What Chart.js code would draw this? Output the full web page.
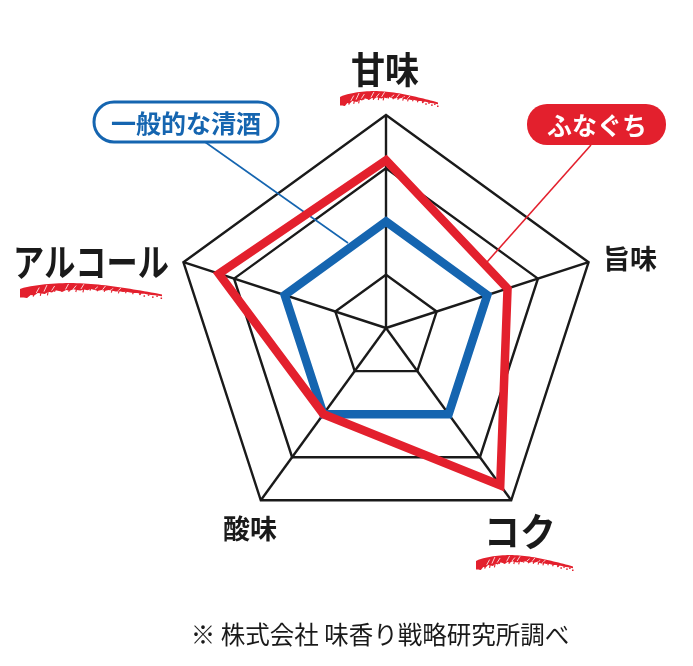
<!DOCTYPE html>
<html>
<head>
<meta charset="utf-8">
<script src="https://cdn.jsdelivr.net/npm/chart.js@4"></script>
<style>
  html, body { margin: 0; padding: 0; background: #ffffff; }
  #wrap { width: 693px; height: 666px; position: relative; }
</style>
</head>
<body>
<div id="wrap"><canvas id="c" width="693" height="666"></canvas></div>
<script>
const categories = ['甘味', '旨味', 'コク', '酸味', 'アルコール'];
const seriesNames = ['ふなぐち', '一般的な清酒'];
const funaguchiValues = [3.15, 2.4, 3.65, 2.0, 3.3];
const futsuValues = [2, 2, 2, 2, 2];
const tickValues = [0, 1, 2, 3, 4];
const footnote = '※ 株式会社 味香り戦略研究所調べ';

const RED = '#e3202d';
const BLUE = '#1565b0';
const INK = '#1a1a1a';
const JP = '"Noto Sans CJK JP", "Noto Sans", sans-serif';

// decorative brush stroke under a label
function brush(ctx, x0, x1, yBase, lift, thick) {
  ctx.save();
  const w = x1 - x0;
  const hump = t => lift * Math.sin(Math.PI * Math.pow(t, 0.8));
  const half = t => thick * (1 - 0.85 * t) * 0.5;
  const top = t => yBase - hump(t) - half(t) + t * 2;
  const bot = t => yBase - hump(t) + half(t) + t * 2 + 0.6;
  ctx.fillStyle = RED;
  ctx.beginPath();
  const N = 40;
  for (let i = 0; i <= N; i++) {
    const t = i / N;
    const x = x0 + w * t;
    if (i === 0) ctx.moveTo(x, top(t)); else ctx.lineTo(x, top(t));
  }
  for (let i = N; i >= 0; i--) {
    const t = i / N;
    const x = x0 + w * t;
    const jag = ((i * 7) % 5) * 0.7 * (1 - t);
    ctx.lineTo(x, bot(t) + jag);
  }
  ctx.closePath();
  ctx.fill();
  // bristle gaps
  ctx.strokeStyle = '#ffffff';
  ctx.lineWidth = 0.8;
  for (let i = 3; i < 24; i += 2) {
    const t = i / 30 + ((i * 13) % 7) / 160;
    const x = x0 + w * t;
    const y1 = top(t) + ((i * 5) % 4) * 0.8;
    const y2 = bot(t) - ((i * 3) % 3);
    if (y2 - y1 < 1.5) continue;
    ctx.beginPath();
    ctx.moveTo(x + 1.5, y1);
    ctx.lineTo(x - 1.5, y2);
    ctx.stroke();
  }
  // drips and speckles
  ctx.strokeStyle = RED;
  ctx.lineWidth = 1.1;
  for (let i = 1; i < 18; i++) {
    const t = i / 20;
    const x = x0 + w * t;
    const yb = bot(t);
    const len = 1.5 + ((i * 11) % 5) * 0.8 * (1 - t);
    ctx.beginPath();
    ctx.moveTo(x, yb - 1);
    ctx.lineTo(x - 1, yb + len);
    ctx.stroke();
  }
  ctx.fillStyle = RED;
  for (let i = 0; i < 6; i++) {
    const t = 0.84 + i * 0.03;
    ctx.fillRect(x0 + w * t, bot(t) + (i % 2) * 1.5, 1.5, 1.5);
  }
  ctx.restore();
}

function roundRect(ctx, x, y, w, h, r) {
  ctx.beginPath();
  ctx.moveTo(x + r, y);
  ctx.lineTo(x + w - r, y);
  ctx.arc(x + w - r, y + r, r, -Math.PI / 2, 0);
  ctx.lineTo(x + w, y + h - r);
  ctx.arc(x + w - r, y + h - r, r, 0, Math.PI / 2);
  ctx.lineTo(x + r, y + h);
  ctx.arc(x + r, y + h - r, r, Math.PI / 2, Math.PI);
  ctx.lineTo(x, y + r);
  ctx.arc(x + r, y + r, r, Math.PI, Math.PI * 1.5);
  ctx.closePath();
}

function squeezedText(ctx, text, x, y, sx) {
  ctx.save();
  ctx.translate(x, y);
  ctx.scale(sx, 1);
  ctx.fillText(text, 0, 0);
  ctx.restore();
}

const decor = {
  id: 'decor',
  beforeDatasetsDraw(chart) {
    const ctx = chart.ctx;
    ctx.save();
    ctx.lineWidth = 1.6;
    ctx.strokeStyle = BLUE;
    ctx.beginPath();
    ctx.moveTo(205, 142);
    ctx.lineTo(348, 243);
    ctx.stroke();
    ctx.strokeStyle = RED;
    ctx.beginPath();
    ctx.moveTo(591, 145);
    ctx.lineTo(487, 262);
    ctx.stroke();
    ctx.restore();
  },
  afterDraw(chart) {
    const ctx = chart.ctx;
    ctx.save();
    ctx.fillStyle = INK;
    ctx.textBaseline = 'middle';
    ctx.textAlign = 'center';
    // axis labels
    ctx.font = 'bold 37px ' + JP;
    squeezedText(ctx, categories[0], 385, 70, 0.92);
    brush(ctx, 340, 438, 101, 8, 8);
    ctx.font = 'bold 27px ' + JP;
    ctx.fillText(categories[1], 630, 259);
    ctx.font = 'bold 39px ' + JP;
    squeezedText(ctx, categories[2], 520, 531, 0.92);
    brush(ctx, 476, 573, 565, 8, 8);
    ctx.font = 'bold 27px ' + JP;
    ctx.fillText(categories[3], 250, 529);
    ctx.textAlign = 'left';
    ctx.font = 'bold 38px ' + JP;
    squeezedText(ctx, categories[4], 13, 262, 0.82);
    brush(ctx, 20, 162, 293, 8, 8);

    // legend bubbles
    ctx.textAlign = 'center';
    ctx.lineWidth = 3;
    ctx.strokeStyle = BLUE;
    ctx.fillStyle = '#ffffff';
    roundRect(ctx, 94, 102, 184, 40, 20);
    ctx.fill();
    ctx.stroke();
    ctx.fillStyle = BLUE;
    ctx.font = 'bold 25px ' + JP;
    ctx.fillText(seriesNames[1], 186, 123);

    ctx.fillStyle = RED;
    roundRect(ctx, 527, 104, 139, 41, 20);
    ctx.fill();
    ctx.fillStyle = '#ffffff';
    ctx.font = 'bold 25px ' + JP;
    ctx.fillText(seriesNames[0], 597, 125);

    // footnote
    ctx.fillStyle = INK;
    ctx.font = '24.5px ' + JP;
    ctx.fillText(footnote, 380, 635);
    ctx.restore();
  }
};

new Chart(document.getElementById('c'), {
  type: 'radar',
  data: {
    labels: categories,
    datasets: [
      {
        label: seriesNames[0],
        data: funaguchiValues,
        borderColor: RED,
        borderWidth: 8.5,
        borderJoinStyle: 'miter',
        fill: false,
        pointRadius: 0,
        tension: 0
      },
      {
        label: seriesNames[1],
        data: futsuValues,
        borderColor: BLUE,
        borderWidth: 8.5,
        borderJoinStyle: 'miter',
        fill: false,
        pointRadius: 0,
        tension: 0
      }
    ]
  },
  options: {
    responsive: false,
    animation: false,
    devicePixelRatio: 1,
    layout: { padding: { left: 173, right: 94, top: 115, bottom: 125 } },
    plugins: { legend: { display: false }, tooltip: { enabled: false } },
    scales: {
      r: {
        min: tickValues[0],
        max: tickValues[tickValues.length - 1],
        ticks: { display: false, stepSize: 1 },
        grid: { color: INK, lineWidth: 2.4 },
        angleLines: { color: INK, lineWidth: 2.4 },
        pointLabels: { display: false }
      }
    }
  },
  plugins: [decor]
});
</script>
</body>
</html>
